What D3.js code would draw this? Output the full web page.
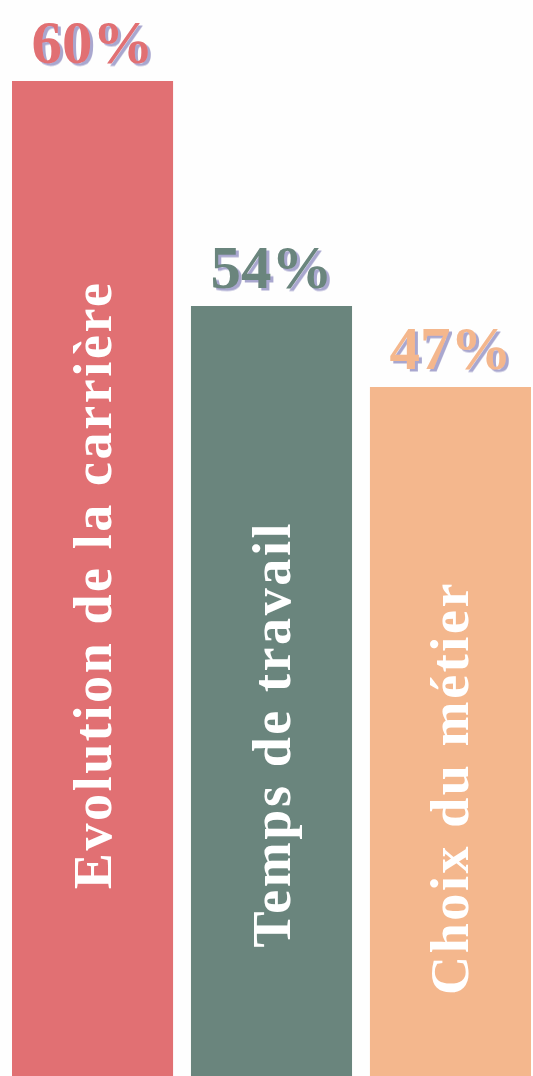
<!DOCTYPE html>
<html>
<head>
<meta charset="utf-8">
<script src="https://cdn.jsdelivr.net/npm/d3@7"></script>
<style>
  html, body { margin: 0; padding: 0; background: #fefefe; }
  svg { display: block; }
</style>
</head>
<body>
<svg id="chart"></svg>
<script>
"use strict";

const categories = ["Evolution de la carrière", "Temps de travail", "Choix du métier"];
const values = [60, 54, 47];
const valueLabels = ["60%", "54%", "47%"];
const barColors = ["#e17073", "#6a857d", "#f4b78d"];

const width = 533;
const height = 1076;
const shadowColor = "#a9a7cf";
const serif = "'Liberation Serif', 'Times New Roman', serif";

const svg = d3.select("#chart")
    .attr("width", width)
    .attr("height", height);

// flat offset shadow for the percentages
svg.append("defs").append("filter")
    .attr("id", "flatShadow")
    .attr("x", "-10%").attr("y", "-10%")
    .attr("width", "130%").attr("height", "130%")
    .append("feDropShadow")
    .attr("dx", 3).attr("dy", 2.5)
    .attr("stdDeviation", 0)
    .attr("flood-color", shadowColor)
    .attr("flood-opacity", 1);

// bands across the page, heights follow the original (not a zero based scale)
const xScale = d3.scaleBand()
    .domain(categories)
    .range([12, 531])
    .paddingInner(0.1);
const yScale = d3.scaleLinear()
    .domain([0, 47, 54, 60])
    .range([height, 387, 306, 81]);

const data = categories.map((c, i) => ({
    name: c, value: values[i], label: valueLabels[i], color: barColors[i]
}));

svg.selectAll("rect.bar")
    .data(data)
    .join("rect")
    .attr("class", "bar")
    .attr("x", d => xScale(d.name))
    .attr("y", d => yScale(d.value))
    .attr("width", xScale.bandwidth())
    .attr("height", d => height - yScale(d.value))
    .attr("fill", d => d.color);

const cx = d => xScale(d.name) + xScale.bandwidth() / 2;

svg.selectAll("text.value")
    .data(data)
    .join("text")
    .attr("class", "value")
    .attr("x", cx)
    .attr("y", d => yScale(d.value) - 18)
    .attr("text-anchor", "middle")
    .attr("font-family", serif)
    .attr("font-weight", "bold")
    .attr("font-size", 61)
    .attr("fill", d => d.color)
    .attr("filter", "url(#flatShadow)")
    .text(d => d.label);

// rotated category names inside the bars
function nameMid(d) { return 531 + 0.664 * yScale(d.value); }

svg.selectAll("text.name")
    .data(data)
    .join("text")
    .attr("class", "name")
    .attr("transform", d => `translate(${cx(d) + 18},${nameMid(d)}) rotate(-90)`)
    .attr("text-anchor", "middle")
    .attr("font-family", serif)
    .attr("font-weight", "bold")
    .attr("font-size", 54)
    .attr("letter-spacing", 2.6)
    .attr("fill", "#ffffff")
    .text(d => d.name);
</script>
</body>
</html>
